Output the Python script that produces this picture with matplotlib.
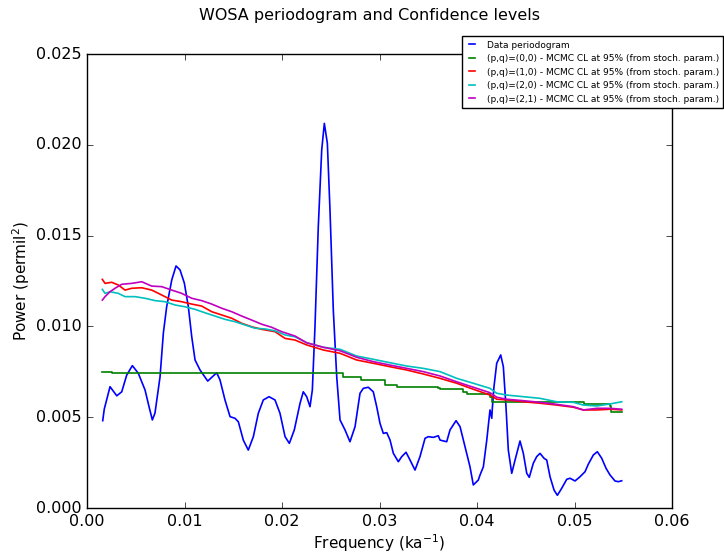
import matplotlib
matplotlib.use('Agg')
import matplotlib.pyplot as plt
from matplotlib.ticker import FormatStrFormatter

# data periodogram
freq_data = [0.00161, 0.00177, 0.00236, 0.00305, 0.00356, 0.00407, 0.00465, 0.00526, 0.00595, 0.00636,
             0.00670, 0.00697, 0.00749, 0.00783, 0.00817, 0.00869, 0.00913, 0.00954, 0.00998, 0.01039,
             0.01074, 0.01108, 0.01159, 0.01238, 0.01295, 0.01330, 0.01364, 0.01415, 0.01467, 0.01518,
             0.01552, 0.01603, 0.01654, 0.01706, 0.01757, 0.01808, 0.01867, 0.01928, 0.01979, 0.02031,
             0.02075, 0.02126, 0.02185, 0.02218, 0.02253, 0.02287, 0.02311, 0.02338, 0.02372, 0.02407,
             0.02434, 0.02465, 0.02492, 0.02526, 0.02561, 0.02595, 0.02646, 0.02697, 0.02749, 0.02800,
             0.02834, 0.02885, 0.02936, 0.02971, 0.03005, 0.03039, 0.03074, 0.03108, 0.03142, 0.03193,
             0.03228, 0.03272, 0.03313, 0.03364, 0.03415, 0.03467, 0.03501, 0.03552, 0.03603, 0.03621,
             0.03689, 0.03723, 0.03785, 0.03826, 0.03877, 0.03928, 0.03962, 0.04013, 0.04031, 0.04065,
             0.04100, 0.04133, 0.04151, 0.04157, 0.04174, 0.04202, 0.04243, 0.04270, 0.04297, 0.04321,
             0.04356, 0.04390, 0.04441, 0.04475, 0.04510, 0.04536, 0.04577, 0.04612, 0.04646, 0.04687,
             0.04715, 0.04749, 0.04790, 0.04824, 0.04869, 0.04920, 0.04954, 0.05005, 0.05056, 0.05108,
             0.05142, 0.05193, 0.05234, 0.05279, 0.05323, 0.05364, 0.05415, 0.05449, 0.05484]
power_data = [0.00481, 0.00545, 0.00668, 0.00618, 0.00640, 0.00732, 0.00784, 0.00742, 0.00650, 0.00558,
              0.00485, 0.00523, 0.00723, 0.00964, 0.01109, 0.01256, 0.01333, 0.01311, 0.01239, 0.01109,
              0.00943, 0.00815, 0.00760, 0.00699, 0.00727, 0.00745, 0.00705, 0.00595, 0.00503, 0.00494,
              0.00475, 0.00374, 0.00319, 0.00393, 0.00522, 0.00595, 0.00613, 0.00595, 0.00522, 0.00393,
              0.00356, 0.00430, 0.00577, 0.00640, 0.00613, 0.00558, 0.00650, 0.00998, 0.01549, 0.01971,
              0.02118, 0.02008, 0.01641, 0.01090, 0.00723, 0.00485, 0.00430, 0.00365, 0.00448, 0.00632,
              0.00659, 0.00665, 0.00640, 0.00558, 0.00466, 0.00411, 0.00415, 0.00374, 0.00301, 0.00255,
              0.00283, 0.00307, 0.00264, 0.00209, 0.00283, 0.00384, 0.00393, 0.00389, 0.00398, 0.00374,
              0.00365, 0.00430, 0.00481, 0.00448, 0.00338, 0.00227, 0.00127, 0.00154, 0.00182, 0.00227,
              0.00374, 0.00540, 0.00494, 0.00549, 0.00668, 0.00797, 0.00843, 0.00778, 0.00558, 0.00319,
              0.00191, 0.00264, 0.00369, 0.00301, 0.00191, 0.00169, 0.00246, 0.00283, 0.00301, 0.00274,
              0.00264, 0.00172, 0.00099, 0.00070, 0.00109, 0.00158, 0.00164, 0.00149, 0.00172, 0.00200,
              0.00242, 0.00292, 0.00310, 0.00274, 0.00219, 0.00182, 0.00149, 0.00145, 0.00150]

# (p,q)=(0,0) confidence level, a step curve
freq_00 = [0.00157, 0.00200, 0.00260, 0.02630, 0.02810, 0.03056, 0.03176, 0.03603, 0.03621, 0.03860,
           0.03895, 0.04133, 0.04151, 0.05095, 0.05364, 0.05371, 0.05484]
cl_00 = [0.00748, 0.00750, 0.00743, 0.00723, 0.00705, 0.00677, 0.00665, 0.00663, 0.00654, 0.00640,
         0.00628, 0.00613, 0.00585, 0.00573, 0.00562, 0.00530, 0.00530]

# (p,q)=(1,0)
freq_10 = [0.00157, 0.00185, 0.00253, 0.00321, 0.00390, 0.00458, 0.00561, 0.00664, 0.00766, 0.00869,
           0.00971, 0.01074, 0.01176, 0.01279, 0.01382, 0.01484, 0.01587, 0.01689, 0.01792, 0.01928,
           0.02031, 0.02133, 0.02253, 0.02424, 0.02595, 0.02766, 0.02936, 0.03108, 0.03279, 0.03449,
           0.03621, 0.03792, 0.03962, 0.04133, 0.04202, 0.04305, 0.04475, 0.04646, 0.04817, 0.04988,
           0.05090, 0.05228, 0.05364, 0.05484]
cl_10 = [0.01259, 0.01237, 0.01243, 0.01228, 0.01200, 0.01210, 0.01213, 0.01200, 0.01173, 0.01145,
         0.01136, 0.01123, 0.01112, 0.01081, 0.01063, 0.01045, 0.01017, 0.00998, 0.00984, 0.00971,
         0.00934, 0.00925, 0.00898, 0.00870, 0.00852, 0.00815, 0.00797, 0.00778, 0.00760, 0.00738,
         0.00714, 0.00687, 0.00654, 0.00622, 0.00599, 0.00595, 0.00585, 0.00577, 0.00567, 0.00555,
         0.00540, 0.00540, 0.00544, 0.00540]

# (p,q)=(2,0)
freq_20 = [0.00157, 0.00185, 0.00236, 0.00321, 0.00390, 0.00492, 0.00595, 0.00697, 0.00800, 0.00903,
           0.01005, 0.01108, 0.01210, 0.01313, 0.01415, 0.01518, 0.01621, 0.01723, 0.01826, 0.01928,
           0.02031, 0.02133, 0.02253, 0.02424, 0.02595, 0.02766, 0.02936, 0.03108, 0.03279, 0.03449,
           0.03621, 0.03792, 0.03962, 0.04133, 0.04202, 0.04305, 0.04475, 0.04646, 0.04817, 0.04988,
           0.05090, 0.05228, 0.05364, 0.05484]
cl_20 = [0.01204, 0.01182, 0.01191, 0.01182, 0.01164, 0.01164, 0.01155, 0.01142, 0.01136, 0.01118,
         0.01108, 0.01094, 0.01075, 0.01057, 0.01039, 0.01026, 0.01008, 0.00990, 0.00986, 0.00976,
         0.00953, 0.00943, 0.00910, 0.00885, 0.00874, 0.00837, 0.00819, 0.00800, 0.00782, 0.00769,
         0.00751, 0.00714, 0.00687, 0.00659, 0.00632, 0.00622, 0.00613, 0.00604, 0.00585, 0.00582,
         0.00567, 0.00562, 0.00573, 0.00585]

# (p,q)=(2,1)
freq_21 = [0.00157, 0.00185, 0.00236, 0.00287, 0.00356, 0.00458, 0.00561, 0.00664, 0.00766, 0.00869,
           0.00971, 0.01074, 0.01176, 0.01279, 0.01382, 0.01484, 0.01587, 0.01689, 0.01792, 0.01894,
           0.01997, 0.02133, 0.02253, 0.02424, 0.02595, 0.02766, 0.02936, 0.03108, 0.03279, 0.03449,
           0.03621, 0.03792, 0.03962, 0.04133, 0.04202, 0.04305, 0.04475, 0.04646, 0.04817, 0.04988,
           0.05090, 0.05228, 0.05364, 0.05484]
cl_21 = [0.01145, 0.01164, 0.01191, 0.01210, 0.01232, 0.01237, 0.01246, 0.01222, 0.01219, 0.01200,
         0.01182, 0.01155, 0.01142, 0.01123, 0.01100, 0.01081, 0.01057, 0.01035, 0.01012, 0.00995,
         0.00971, 0.00947, 0.00910, 0.00885, 0.00866, 0.00830, 0.00806, 0.00787, 0.00769, 0.00751,
         0.00727, 0.00695, 0.00665, 0.00635, 0.00610, 0.00599, 0.00591, 0.00582, 0.00571, 0.00558,
         0.00540, 0.00549, 0.00549, 0.00544]

cl_label = ' - MCMC CL at 95% (from stoch. param.)'

plt.style.use('classic')
plt.rcParams['mathtext.default'] = 'regular'
plt.rcParams['font.size'] = 11.5

fig = plt.figure(figsize=(7.24, 5.54), dpi=100, facecolor='white')
ax = fig.add_axes([0.1202, 0.083, 0.808, 0.8195])

ax.plot(freq_data, power_data, color='b', lw=1.2, label='Data periodogram')
ax.plot(freq_00, cl_00, color='g', lw=1.2, drawstyle='steps-post', label='(p,q)=(0,0)' + cl_label)
ax.plot(freq_10, cl_10, color='r', lw=1.2, label='(p,q)=(1,0)' + cl_label)
ax.plot(freq_20, cl_20, color='c', lw=1.2, label='(p,q)=(2,0)' + cl_label)
ax.plot(freq_21, cl_21, color='m', lw=1.2, label='(p,q)=(2,1)' + cl_label)

ax.set_xlim(0, 0.06)
ax.set_ylim(0, 0.025)
ax.xaxis.set_major_formatter(FormatStrFormatter('%.2f'))
ax.yaxis.set_major_formatter(FormatStrFormatter('%.3f'))
ax.set_xlabel('Frequency (ka$^{-1}$)', fontsize=11, labelpad=3)
ax.set_ylabel('Power (permil$^2$)', fontsize=11, labelpad=2.5)
fig.suptitle('WOSA periodogram and Confidence levels', fontsize=11.5, x=0.511, y=0.985)

ax.legend(loc='upper right', bbox_to_anchor=(0.999, 0.935), bbox_transform=fig.transFigure,
          fontsize=6.5, handlelength=1.2, handletextpad=1.0, borderpad=0.5, labelspacing=0.5,
          borderaxespad=0, fancybox=False)

fig.savefig('out.png', dpi=100, facecolor='white')
